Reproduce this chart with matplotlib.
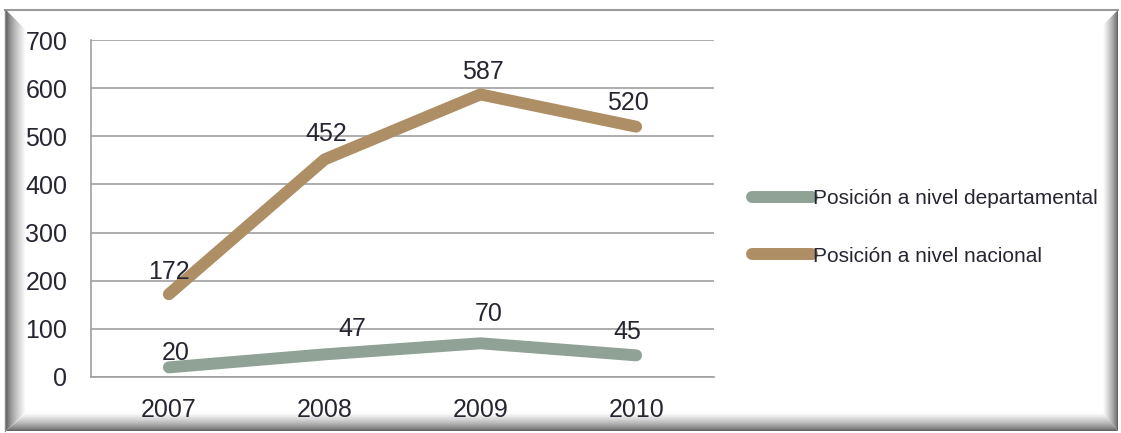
import numpy as np
import matplotlib.pyplot as plt
from matplotlib.patches import Polygon

plt.rcParams['font.family'] = ['Liberation Sans', 'DejaVu Sans']

years = ['2007', '2008', '2009', '2010']
departamental = [20, 47, 70, 45]
nacional = [172, 452, 587, 520]
yticks = [0, 100, 200, 300, 400, 500, 600, 700]

# label offsets in pixels (dx, dy), as the labels sit in the picture
off_nac = [(0, 22), (2, 25), (3, 22), (-8, 24)]
off_dep = [(7, 14), (28, 25), (8, 29), (-9, 23)]

c_dep = '#8fa295'
c_nac = '#ad8e65'
txt = '#262633'
grid = '#a0a0a0'

W, H = 1121, 433
fig = plt.figure(figsize=(W / 100, H / 100), dpi=100)

# background frame with bevels
bg = fig.add_axes([0, 0, 1, 1])
bg.set_xlim(0, W)
bg.set_ylim(H, 0)
bg.axis('off')

def bevel(poly, extent, horizontal, reverse):
    g = np.linspace(0, 1, 64) ** 0.7
    if reverse:
        g = g[::-1]
    img = g[None, :] if horizontal else g[:, None]
    im = bg.imshow(img, cmap='gray', vmin=-0.55, vmax=1.0, extent=extent,
                   aspect='auto', interpolation='bilinear', zorder=1)
    p = Polygon(poly, closed=True, transform=bg.transData, facecolor='none', edgecolor='none')
    bg.add_patch(p)
    im.set_clip_path(p)

# left bevel: dark at outer edge
bevel([(6, 10), (26, 30), (26, 412), (6, 431)], (6, 26, 431, 10), True, False)
# right bevel
bevel([(1118, 10), (1103, 25), (1103, 414), (1118, 431)], (1103, 1118, 431, 10), True, True)
# bottom bevel
bevel([(6, 431), (26, 413), (1103, 413), (1118, 431)], (6, 1118, 431, 413), False, True)
bg.plot([5, 1118], [10, 10], color='#9a9a9a', lw=1.5, zorder=2)
bg.plot([5, 5], [10, 431], color='#8a8a8a', lw=1.0, zorder=2)

ax = fig.add_axes([91 / W, 1 - 377 / H, (714 - 91) / W, (377 - 40) / H])
ax.patch.set_alpha(0)
x = np.arange(len(years))

ax.plot(x, departamental, color=c_dep, lw=8.6, solid_capstyle='round',
        solid_joinstyle='round', label='Posición a nivel departamental', zorder=3)
ax.plot(x, nacional, color=c_nac, lw=8.6, solid_capstyle='round',
        solid_joinstyle='round', label='Posición a nivel nacional', zorder=3)

for xi, v, o in zip(x, nacional, off_nac):
    ax.annotate(str(v), (xi, v), xytext=o, textcoords='offset pixels',
                ha='center', va='center', fontsize=18, color=txt, zorder=4)
for xi, v, o in zip(x, departamental, off_dep):
    ax.annotate(str(v), (xi, v), xytext=o, textcoords='offset pixels',
                ha='center', va='center', fontsize=18, color=txt, zorder=4)

ax.set_xlim(-0.5, 3.5)
ax.set_ylim(0, 700)
ax.set_yticks(yticks)
ax.set_xticks(x)
ax.set_xticklabels(years)
ax.tick_params(axis='both', length=0, labelsize=18, labelcolor=txt)
ax.tick_params(axis='y', pad=17)
ax.tick_params(axis='x', pad=15)
ax.grid(axis='y', color=grid, lw=1.2)
ax.set_axisbelow(True)
for s in ['top', 'right']:
    ax.spines[s].set_visible(False)
for s in ['left', 'bottom']:
    ax.spines[s].set_color(grid)
    ax.spines[s].set_linewidth(1.2)

h, l = ax.get_legend_handles_labels()
leg = fig.legend(h, l, loc='upper left', bbox_to_anchor=(752 / W, 1 - 189 / H),
                 frameon=False, fontsize=15, handlelength=2.9, handletextpad=0.05,
                 labelspacing=1.85, borderpad=0, borderaxespad=0)
for t in leg.get_texts():
    t.set_color(txt)

fig.savefig('out.png', dpi=100)
